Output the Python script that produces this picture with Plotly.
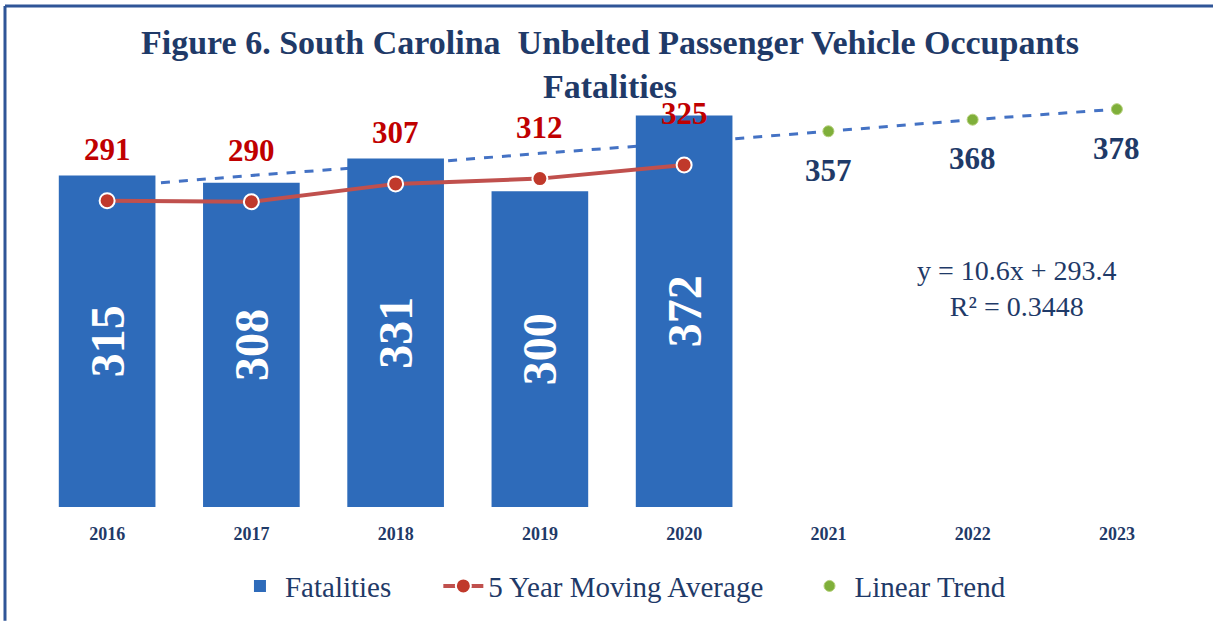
import plotly.graph_objects as go

years = ["2016", "2017", "2018", "2019", "2020", "2021", "2022", "2023"]
fatal_years = ["2016", "2017", "2018", "2019", "2020"]
fatalities = [315, 308, 331, 300, 372]
moving_avg = [291, 290, 307, 312, 325]
trend_line = [304, 315, 325, 336, 346, 357, 368, 378]
trend_years = ["2021", "2022", "2023"]
trend_pts = [357, 368, 378]
equation = "y = 10.6x + 293.4<br>R² = 0.3448"
title = "Figure 6. South Carolina  Unbelted Passenger Vehicle Occupants<br>Fatalities"

NAVY = "#1F3A68"
SERIF = "Liberation Serif, Times New Roman, serif"
NB = "\u00a0"
TH = "\u2009"

fig = go.Figure()

# trend line drawn on base subplot (behind bars)
fig.add_trace(go.Scatter(
    x=years, y=trend_line, mode="lines", xaxis="x", yaxis="y",
    line=dict(color="#4472C4", width=3, dash="dash"),
    showlegend=False, hoverinfo="skip"))

fig.add_trace(go.Bar(
    x=fatal_years, y=fatalities, name="Fatalities" + NB * 5 + TH, xaxis="x", yaxis="y2",
    marker=dict(color="#2E6BBA", line=dict(width=0)),
    text=[str(v) for v in fatalities], textposition="inside",
    insidetextanchor="middle", textangle=-90, constraintext="none",
    textfont=dict(family=SERIF, size=48, color="white", weight="bold")))

fig.add_trace(go.Scatter(
    x=fatal_years, y=moving_avg, name="5 Year Moving Average" + NB * 5, mode="lines+markers",
    xaxis="x", yaxis="y2",
    line=dict(color="#C0504D", width=4),
    marker=dict(color="#C0392B", size=15, line=dict(color="white", width=2))))

fig.add_trace(go.Scatter(
    x=trend_years, y=trend_pts, name="Linear Trend", mode="markers",
    xaxis="x", yaxis="y2",
    marker=dict(color="#7FAF3A", size=11, line=dict(color="#B5D07A", width=1))))

annotations = []
for x, v in zip(fatal_years, moving_avg):
    annotations.append(dict(x=years.index(x), y=v, xref="x", yref="y", text=str(v), showarrow=False,
                            xanchor="center", yanchor="middle",
                            yshift=51, font=dict(family=SERIF, size=31, color="#C00000", weight="bold")))
for x, v in zip(trend_years, trend_pts):
    annotations.append(dict(x=years.index(x), y=v, xref="x", yref="y", text=str(v), showarrow=False,
                            xanchor="center", yanchor="middle",
                            yshift=-39, font=dict(family=SERIF, size=31, color=NAVY, weight="bold")))
annotations.append(dict(x=0.851, y=0.518, xref="paper", yref="paper", text=equation,
                        showarrow=False, align="center", xanchor="center", yanchor="middle",
                        font=dict(family=SERIF, size=28, color=NAVY)))
annotations.append(dict(x=0.498, y=1.051, xref="paper", yref="paper", text=title,
                        showarrow=False, align="center", xanchor="center", yanchor="middle",
                        font=dict(family=SERIF, size=34, color=NAVY, weight="bold")))

shapes = [
    dict(type="line", xref="paper", yref="paper", x0=-0.026, x1=-0.026, y0=1.19, y1=-0.27,
         line=dict(color="#2F5597", width=3)),
    dict(type="line", xref="paper", yref="paper", x0=-0.026, x1=1.03, y0=1.19, y1=1.19,
         line=dict(color="#2F5597", width=3)),
]

fig.update_layout(
    width=1213, height=622,
    margin=dict(l=35, r=24, t=86, b=114),
    paper_bgcolor="white", plot_bgcolor="white",
    bargap=0.33,
    showlegend=True,
    legend=dict(orientation="h", x=0.5095, xanchor="center", y=-0.185, yanchor="middle",
                font=dict(family=SERIF, size=29, color=NAVY), itemwidth=40),
    xaxis=dict(type="category", categoryorder="array", categoryarray=years,
               range=[-0.5, 7.5], showgrid=False, showline=False, zeroline=False,
               ticks="", ticklabelstandoff=14,
               tickfont=dict(family=SERIF, size=18, color=NAVY, weight="bold")),
    yaxis=dict(range=[0, 400], visible=False, showgrid=False, zeroline=False),
    yaxis2=dict(range=[0, 400], overlaying="y", visible=False, showgrid=False, zeroline=False),
    annotations=annotations,
    shapes=shapes,
)

fig.write_html("out.html", config={"displayModeBar": False},
               post_script="document.body.style.margin='0';")
